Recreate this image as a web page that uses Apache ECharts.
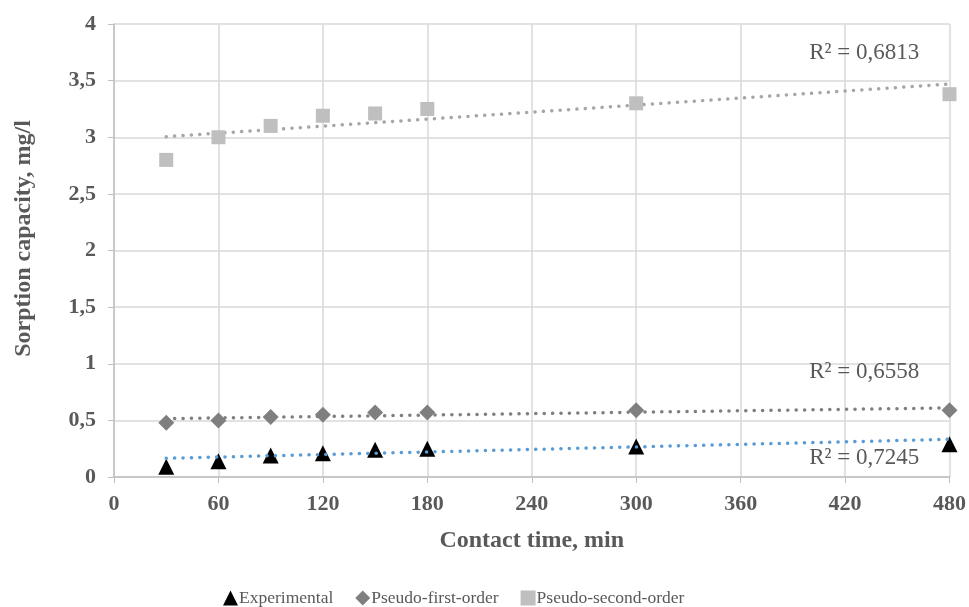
<!DOCTYPE html>
<html>
<head>
<meta charset="utf-8">
<script src="https://cdn.jsdelivr.net/npm/echarts@6/dist/echarts.min.js"></script>
<style>
  html, body { margin: 0; padding: 0; background: #fff; }
  #main { width: 969px; height: 607px; }
</style>
</head>
<body>
<div id="main"></div>
<script>
// contact time, min
var times = [30, 60, 90, 120, 150, 180, 300, 480];
// sorption capacity, mg/l
var experimental = [0.09, 0.14, 0.19, 0.21, 0.24, 0.25, 0.27, 0.29];
var pseudoFirst = [0.48, 0.50, 0.53, 0.55, 0.57, 0.57, 0.59, 0.59];
var pseudoSecond = [2.80, 3.00, 3.10, 3.19, 3.21, 3.25, 3.30, 3.38];
// linear trend lines (start, end)
var trendExp = [[30, 0.165], [480, 0.333]];
var trendFirst = [[30, 0.515], [480, 0.61]];
var trendSecond = [[30, 3.005], [480, 3.47]];
var r2Labels = ['R² = 0,7245', 'R² = 0,6558', 'R² = 0,6813'];

var xTicks = [0, 60, 120, 180, 240, 300, 360, 420, 480];

function pairs(xs, ys) {
  return xs.map(function (x, i) { return [x, ys[i]]; });
}

var font = 'Liberation Serif';
var textGrey = '#595959';

var chart = echarts.init(document.getElementById('main'));

function trendSeries(name, pts, color, label, labelAt) {
  return {
    name: name,
    type: 'line',
    data: pts,
    symbol: 'none',
    silent: true,
    z: 1,
    lineStyle: { color: color, width: 3.5, type: [0.1, 8.3], cap: 'round' },
    markPoint: {
      symbol: 'circle',
      symbolSize: 0,
      data: [{ coord: labelAt }],
      label: {
        show: true,
        formatter: label,
        color: textGrey,
        fontFamily: font,
        fontSize: 23
      }
    }
  };
}

var option = {
  animation: false,
  grid: { left: 114, right: 18, top: 24, bottom: 130 },
  xAxis: {
    type: 'value',
    min: 0,
    max: 480,
    interval: 60,
    name: 'Contact time, min',
    nameLocation: 'middle',
    nameGap: 52,
    nameTextStyle: { color: textGrey, fontFamily: font, fontSize: 24, fontWeight: 'bold' },
    axisLine: { show: true, lineStyle: { color: '#bfbfbf', width: 1.5 } },
    axisTick: { show: true, length: 6, lineStyle: { color: '#bfbfbf' } },
    axisLabel: { color: textGrey, fontFamily: font, fontSize: 22, fontWeight: 'bold', margin: 16,
      formatter: function (v) { return xTicks.indexOf(v) >= 0 ? String(v) : ''; } },
    splitLine: { show: true, lineStyle: { color: '#d9d9d9', width: 1.5 } }
  },
  yAxis: {
    type: 'value',
    min: 0,
    max: 4,
    interval: 0.5,
    name: 'Sorption capacity, mg/l',
    nameLocation: 'middle',
    nameGap: 78,
    nameTextStyle: { color: textGrey, fontFamily: font, fontSize: 24, fontWeight: 'bold', padding: [0, 0, 0, 24] },
    axisLine: { show: true, lineStyle: { color: '#bfbfbf', width: 1.5 } },
    axisTick: { show: true, length: 6, lineStyle: { color: '#bfbfbf' } },
    axisLabel: { color: textGrey, fontFamily: font, fontSize: 22, fontWeight: 'bold', margin: 18,
      formatter: function (v) { return String(v).replace('.', ','); } },
    splitLine: { show: true, lineStyle: { color: '#d9d9d9', width: 1.5 } }
  },
  legend: {
    top: 584,
    left: 218,
    itemGap: 22,
    itemWidth: 15,
    itemHeight: 15,
    textStyle: { color: textGrey, fontFamily: font, fontSize: 17.5, padding: [0, 0, 0, -4] },
    data: [
      { name: 'Experimental', icon: 'triangle', itemStyle: { color: '#000' } },
      { name: 'Pseudo-first-order', icon: 'diamond', itemStyle: { color: '#7f7f7f' } },
      { name: 'Pseudo-second-order', icon: 'rect', itemStyle: { color: '#bfbfbf' } }
    ]
  },
  series: [
    trendSeries('trendSecond', trendSecond, '#a6a6a6', r2Labels[2], [431, 3.74]),
    trendSeries('trendFirst', trendFirst, '#7f7f7f', r2Labels[1], [431, 0.93]),
    trendSeries('trendExp', trendExp, '#5b9bd5', r2Labels[0], [431, 0.17]),
    {
      name: 'Pseudo-second-order',
      type: 'scatter',
      data: pairs(times, pseudoSecond),
      symbol: 'rect',
      symbolSize: 14,
      z: 2,
      itemStyle: { color: '#bfbfbf', opacity: 1 }
    },
    {
      name: 'Pseudo-first-order',
      type: 'scatter',
      data: pairs(times, pseudoFirst),
      symbol: 'diamond',
      symbolSize: 16,
      z: 2,
      itemStyle: { color: '#7f7f7f', opacity: 1 }
    },
    {
      name: 'Experimental',
      type: 'scatter',
      data: pairs(times, experimental),
      symbol: 'triangle',
      symbolSize: 16,
      z: 0,
      itemStyle: { color: '#000', opacity: 1 }
    }
  ]
};

chart.setOption(option);
</script>
</body>
</html>
